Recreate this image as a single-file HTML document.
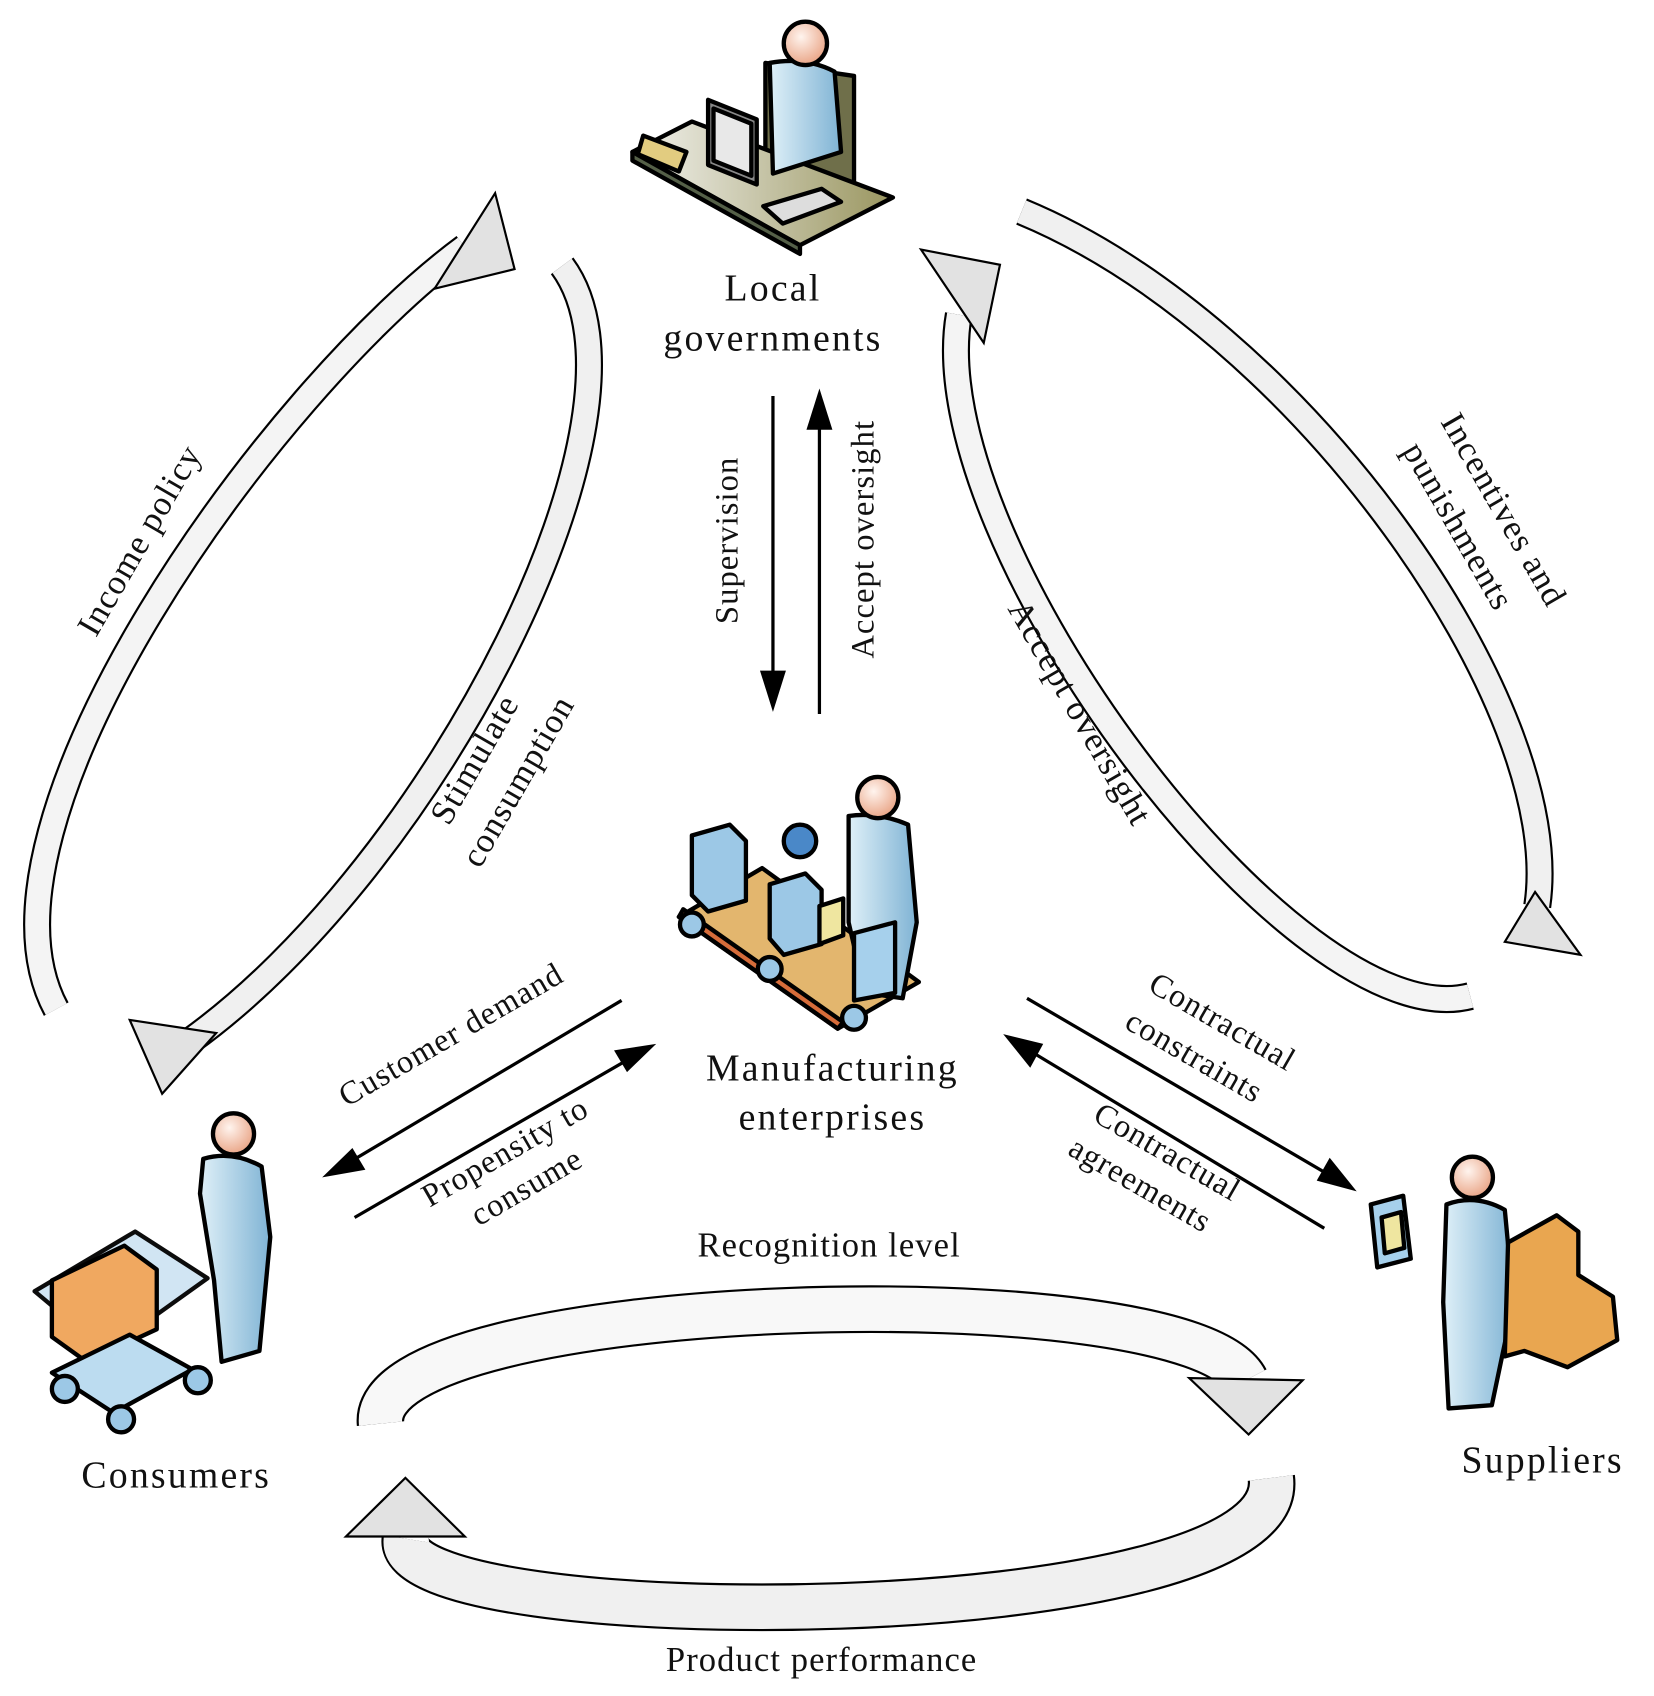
<!DOCTYPE html>
<html><head><meta charset="utf-8"><style>
html,body{margin:0;padding:0;background:#fff;}
svg{display:block}
text{font-family:"Liberation Serif",serif;fill:#111;}
</style></head><body>
<svg width="1654" height="1696" viewBox="0 0 1530 1563" preserveAspectRatio="none" xmlns="http://www.w3.org/2000/svg">
<defs>
<linearGradient id="bl" x1="0" y1="0" x2="1" y2="0"><stop offset="0" stop-color="#dff0f8"/><stop offset="1" stop-color="#7fb3d4"/></linearGradient>
<radialGradient id="hd" cx="0.4" cy="0.35" r="0.7"><stop offset="0" stop-color="#fff4ee"/><stop offset="1" stop-color="#e8a080"/></radialGradient>
<linearGradient id="desk" x1="0" y1="0" x2="1" y2="0"><stop offset="0" stop-color="#f2f2ee"/><stop offset="1" stop-color="#9a9660"/></linearGradient>
</defs>

<!-- curved block arrows -->
<g fill="none" stroke-linecap="butt">
<path d="M52,930 C -40,760 250,360 430,228" stroke="#000" stroke-width="26"/>
<path d="M52,930 C -40,760 250,360 430,228" stroke="#f4f4f4" stroke-width="22"/>
<path d="M520,245 C 620,380 400,800 175,960" stroke="#000" stroke-width="26"/>
<path d="M520,245 C 620,380 400,800 175,960" stroke="#f0f0f0" stroke-width="22"/>
<path d="M945,195 C 1200,300 1450,650 1422,835" stroke="#000" stroke-width="26"/>
<path d="M945,195 C 1200,300 1450,650 1422,835" stroke="#f0f0f0" stroke-width="22"/>
<path d="M1360,918 C 1200,960 850,500 887,290" stroke="#000" stroke-width="26"/>
<path d="M1360,918 C 1200,960 850,500 887,290" stroke="#f4f4f4" stroke-width="22"/>
<path d="M352,1312 C 340,1190 1100,1170 1152,1272" stroke="#000" stroke-width="44"/>
<path d="M352,1312 C 340,1190 1100,1170 1152,1272" stroke="#f8f8f8" stroke-width="40"/>
<path d="M1176,1362 C 1195,1510 360,1510 375,1418" stroke="#000" stroke-width="44"/>
<path d="M1176,1362 C 1195,1510 360,1510 375,1418" stroke="#f0f0f0" stroke-width="40"/>
</g>
<g fill="#e2e2e2" stroke="#000" stroke-width="2">
<polygon points="458,178 476,248 402,266"/>
<polygon points="120,940 200,952 150,1008"/>
<polygon points="1392,868 1462,880 1420,822"/>
<polygon points="852,230 925,244 910,316"/>
<polygon points="1100,1270 1205,1272 1155,1322"/>
<polygon points="320,1416 430,1416 375,1362"/>
</g>

<!-- straight arrows -->
<g stroke="#000" stroke-width="3" fill="none">
<line x1="715" y1="365" x2="715" y2="632"/>
<line x1="758" y1="658" x2="758" y2="382"/>
<line x1="575" y1="922" x2="320" y2="1073"/>
<line x1="328" y1="1122" x2="587" y2="973"/>
<line x1="950" y1="920" x2="1235" y2="1086"/>
<line x1="1225" y1="1132" x2="947" y2="965"/>
</g>
<g fill="#000">
<polygon points="703,618 727,618 715,656"/>
<polygon points="746,396 770,396 758,358"/>
<polygon points="298,1085 326,1058 338,1078"/>
<polygon points="607,962 580,988 568,968"/>
<polygon points="1255,1098 1218,1088 1230,1067"/>
<polygon points="928,953 965,962 953,984"/>
</g>

<!-- Local government icon -->
<g stroke="#000" stroke-width="4" stroke-linejoin="round">
<polygon points="708,58 790,70 790,190 708,178" fill="#6f6f4a"/>
<polygon points="585,140 640,112 826,182 740,226" fill="url(#desk)"/>
<polygon points="585,140 740,226 740,234 585,148" fill="#556048"/>
<path d="M712,58 Q745,52 772,66 L778,140 L715,160 Z" fill="url(#bl)"/>
<circle cx="745" cy="40" r="20" fill="url(#hd)"/>
<polygon points="655,92 700,110 700,170 655,152" fill="#888"/>
<polygon points="660,100 695,114 695,162 660,148" fill="#e8e8e8"/>
<polygon points="706,190 760,174 778,186 724,206" fill="#ddd"/>
<polygon points="595,125 635,140 628,158 590,142" fill="#e2cc80"/>
</g>

<!-- Manufacturing icon -->
<g stroke="#000" stroke-width="4" stroke-linejoin="round">
<polygon points="628,845 705,800 850,905 775,948" fill="#e3b66e"/>
<polygon points="628,845 775,948 780,942 632,838" fill="#d66c3a"/>
<circle cx="640" cy="852" r="11" fill="#9cc8e6"/>
<circle cx="712" cy="893" r="11" fill="#9cc8e6"/>
<circle cx="790" cy="938" r="11" fill="#9cc8e6"/>
<path d="M785,752 Q812,748 840,760 L848,850 L835,920 L800,915 L785,850 Z" fill="url(#bl)"/>
<circle cx="812" cy="735" r="19" fill="url(#hd)"/>
<polygon points="640,770 675,760 690,775 690,830 655,840 640,825" fill="#9cc8e6"/>
<polygon points="712,815 745,805 760,820 760,870 725,880 712,865" fill="#9cc8e6"/>
<polygon points="790,860 828,850 828,915 790,922" fill="#a6d0ec"/>
<circle cx="740" cy="775" r="15" fill="#4a88c8"/>
<polygon points="758,835 780,828 780,862 758,870" fill="#efe6a0"/>
</g>

<!-- Consumer icon -->
<g stroke="#000" stroke-width="4" stroke-linejoin="round">
<path d="M188,1068 Q215,1060 242,1075 L250,1140 L240,1245 L205,1255 L198,1180 L185,1100 Z" fill="url(#bl)"/>
<circle cx="216" cy="1045" r="19" fill="url(#hd)"/>
<polygon points="32,1190 125,1135 192,1178 98,1245 " fill="#cfe4f3" opacity="0.95"/>
<polygon points="48,1180 115,1148 145,1170 145,1225 80,1255 48,1232" fill="#f0a860"/>
<polygon points="48,1265 120,1230 178,1262 105,1302" fill="#bcdcf0"/>
<circle cx="60" cy="1280" r="12" fill="#9cc8e6"/>
<circle cx="112" cy="1308" r="12" fill="#9cc8e6"/>
<circle cx="183" cy="1272" r="12" fill="#9cc8e6"/>
</g>

<!-- Supplier icon -->
<g stroke="#000" stroke-width="4" stroke-linejoin="round">
<path d="M1338,1110 Q1365,1100 1392,1115 L1400,1200 L1380,1295 L1340,1298 L1335,1200 Z" fill="url(#bl)"/>
<circle cx="1362" cy="1085" r="19" fill="url(#hd)"/>
<polygon points="1395,1145 1440,1120 1460,1135 1460,1175 1492,1195 1496,1235 1450,1260 1410,1245 1392,1250" fill="#e9a650"/>
<polygon points="1268,1110 1298,1102 1305,1160 1274,1168" fill="#a6d0ec"/>
<polygon points="1278,1122 1296,1117 1299,1150 1281,1155" fill="#efe6a0"/>
</g>

<!-- Node labels -->
<g font-size="35" text-anchor="middle" letter-spacing="2">
<text x="715" y="277">Local</text>
<text x="715" y="323">governments</text>
<text x="770" y="996">Manufacturing</text>
<text x="770" y="1041">enterprises</text>
<text x="163" y="1371">Consumers</text>
<text x="1427" y="1357">Suppliers</text>
<text x="767" y="1158" font-size="32" letter-spacing="1">Recognition level</text>
<text x="760" y="1540" font-size="32" letter-spacing="1">Product performance</text>
</g>

<!-- Connector labels -->
<g font-size="32" text-anchor="middle" letter-spacing="1">
<text transform="translate(138,503) rotate(-60)">Income policy</text>
<text transform="translate(448,705) rotate(-60)">Stimulate</text>
<text transform="translate(488,725) rotate(-60)">consumption</text>
<text font-size="30" transform="translate(682,498) rotate(-90)">Supervision</text>
<text font-size="30" transform="translate(808,497) rotate(-90)">Accept oversight</text>
<text transform="translate(990,662) rotate(60)">Accept oversight</text>
<text transform="translate(1382,475) rotate(60)">Incentives and</text>
<text transform="translate(1340,490) rotate(60)">punishments</text>
<text font-size="30" transform="translate(422,962) rotate(-30)">Customer demand</text>
<text font-size="30" transform="translate(472,1070) rotate(-30)">Propensity to</text>
<text font-size="30" transform="translate(492,1102) rotate(-30)">consume</text>
<text font-size="30" transform="translate(1126,950) rotate(30)">Contractual</text>
<text font-size="30" transform="translate(1100,982) rotate(30)">constraints</text>
<text font-size="30" transform="translate(1075,1070) rotate(30)">Contractual</text>
<text font-size="30" transform="translate(1050,1100) rotate(30)">agreements</text>
</g>
</svg>
</body></html>
